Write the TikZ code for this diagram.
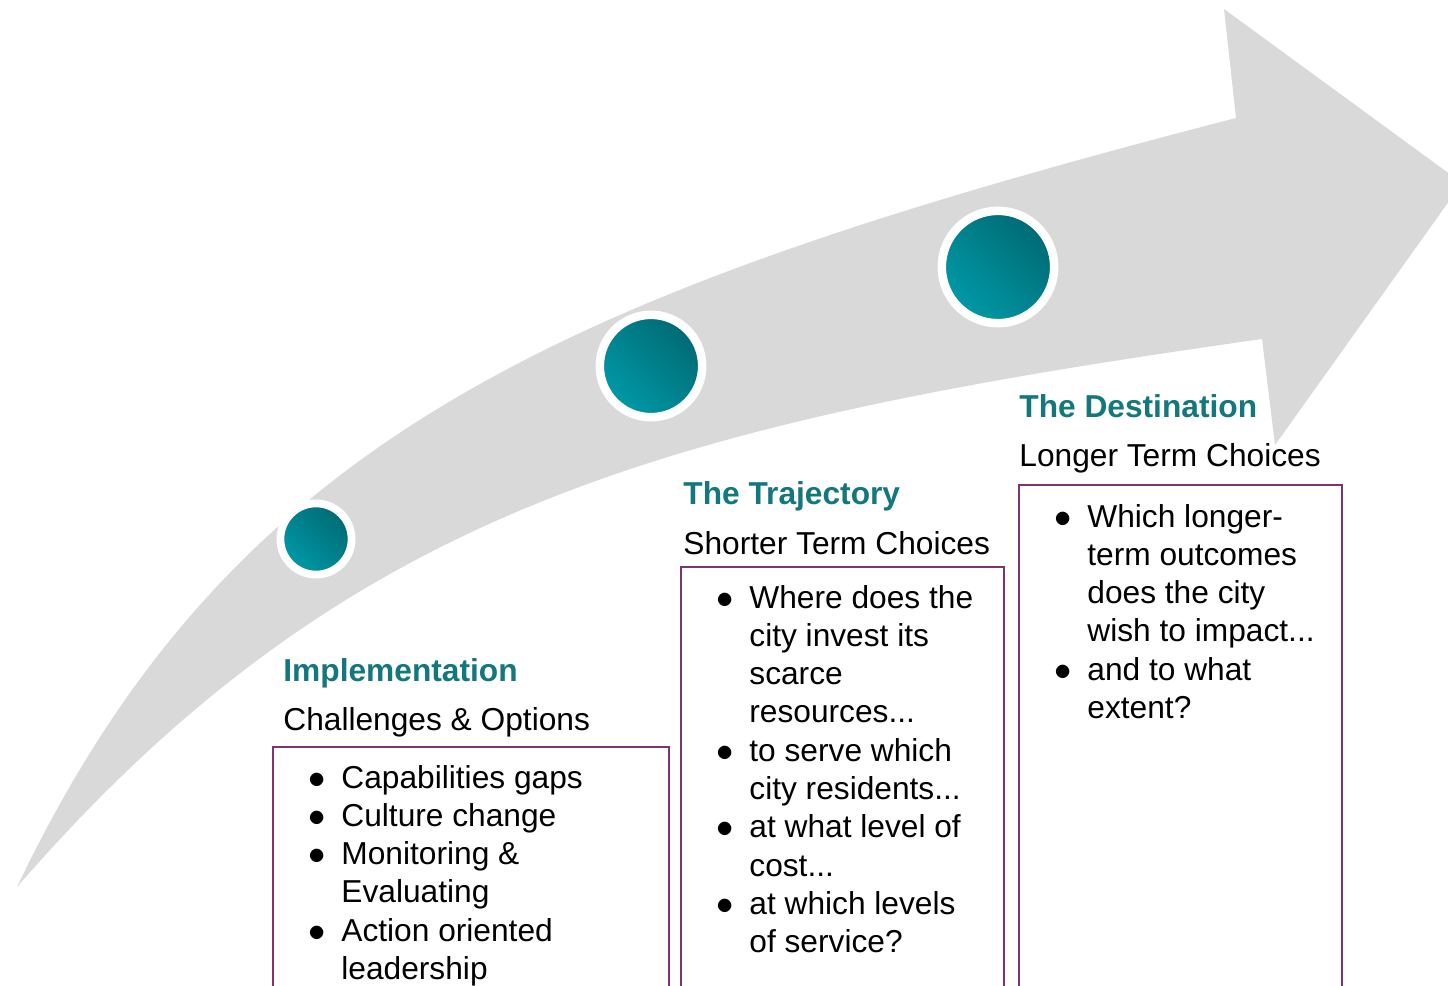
\documentclass[tikz,border=0pt]{standalone}
\usepackage{fontspec}
\setmainfont{Liberation Sans}
\usepackage{xcolor}
\usepackage{tikz}
\usetikzlibrary{positioning,shapes,calc}

\definecolor{arrowgrey}{HTML}{D9D9D9}
\definecolor{tealdark}{HTML}{006A73}
\definecolor{teallight}{HTML}{0099A7}
\definecolor{titleteal}{HTML}{13777C}
\definecolor{boxpurple}{HTML}{7D3470}

\newcommand{\bitem}[1]{\makebox[16.5pt][l]{$\bullet$}#1}
\newcommand{\bcont}[1]{\hspace*{16.5pt}#1}
\newcommand{\blist}[1]{\begin{tabular}[t]{@{}l@{}}#1\end{tabular}}

\tikzset{
  title/.style={anchor=base west, inner sep=0pt, text=titleteal,
    font=\bfseries\fontsize{15.85}{19.15}\selectfont},
  sub/.style={anchor=base west, inner sep=0pt,
    font=\fontsize{15.85}{19.15}\selectfont},
  list/.style={anchor=base west, inner sep=0pt,
    font=\fontsize{15.85}{19.15}\selectfont},
  choicebox/.style={draw=boxpurple, line width=1pt, anchor=north west,
    outer sep=0pt, inner sep=0pt, minimum height=260pt},
  waypoint/.style={circle, draw=white, inner sep=0pt,
    top color=tealdark, bottom color=teallight, shading angle=-45}
}

\begin{document}
\begin{tikzpicture}[x=0.5pt,y=-0.5pt]
\path[use as bounding box] (0,0) rectangle (1448,986);
\clip (0,0) rectangle (1448,986);

% the big arrow
\fill[arrowgrey] (17,887) .. controls (232,437) and (559,293) .. (1236,118)
  -- (1224,9) -- (1462,183) -- (1275,445) -- (1262,339)
  .. controls (668,423) and (347,507) .. (17,887) -- cycle;

% stops along the way
\node(C1) [waypoint, minimum size=35.6pt, line width=3.9pt]  at (316,539) {};
\node(C2) [waypoint, minimum size=51.2pt, line width=4.25pt] at (651,366) {};
\node(C3) [waypoint, minimum size=56.2pt, line width=4.25pt] at (998,267) {};

% implementation
\node(Imp)      [title] at (283,681)                          {Implementation};
\node(ImpSub)   [sub, below=24.5pt of Imp.base west, anchor=base west] {Challenges \& Options};
\node(ImpBox)   [choicebox, minimum width=198pt] at (273,747)  {};
\node(ImpList)  [list, below right=20.5pt and 17.5pt of ImpBox.north west, anchor=base west]
  {\blist{\bitem{Capabilities gaps}\\ \bitem{Culture change}\\ \bitem{Monitoring \&}\\
   \bcont{Evaluating}\\ \bitem{Action oriented}\\ \bcont{leadership}}};

% trajectory
\node(Traj)     [title] at (683,504)                          {The Trajectory};
\node(TrajSub)  [sub, below=25pt of Traj.base west, anchor=base west] {Shorter Term Choices};
\node(TrajBox)  [choicebox, minimum width=161.5pt] at (681,567) {};
\node(TrajList) [list, below right=20.5pt and 17.5pt of TrajBox.north west, anchor=base west]
  {\blist{\bitem{Where does the}\\ \bcont{city invest its}\\ \bcont{scarce}\\ \bcont{resources...}\\
   \bitem{to serve which}\\ \bcont{city residents...}\\ \bitem{at what level of}\\ \bcont{cost...}\\
   \bitem{at which levels}\\ \bcont{of service?}}};

% destination
\node(Dest)     [title] at (1019,417)                         {The Destination};
\node(DestSub)  [sub, below=24.5pt of Dest.base west, anchor=base west] {Longer Term Choices};
\node(DestBox)  [choicebox, minimum width=161.5pt] at (1019,485) {};
\node(DestList) [list, below right=21pt and 17.5pt of DestBox.north west, anchor=base west]
  {\blist{\bitem{Which longer-}\\ \bcont{term outcomes}\\ \bcont{does the city}\\ \bcont{wish to impact...}\\
   \bitem{and to what}\\ \bcont{extent?}}};
\end{tikzpicture}
\end{document}
